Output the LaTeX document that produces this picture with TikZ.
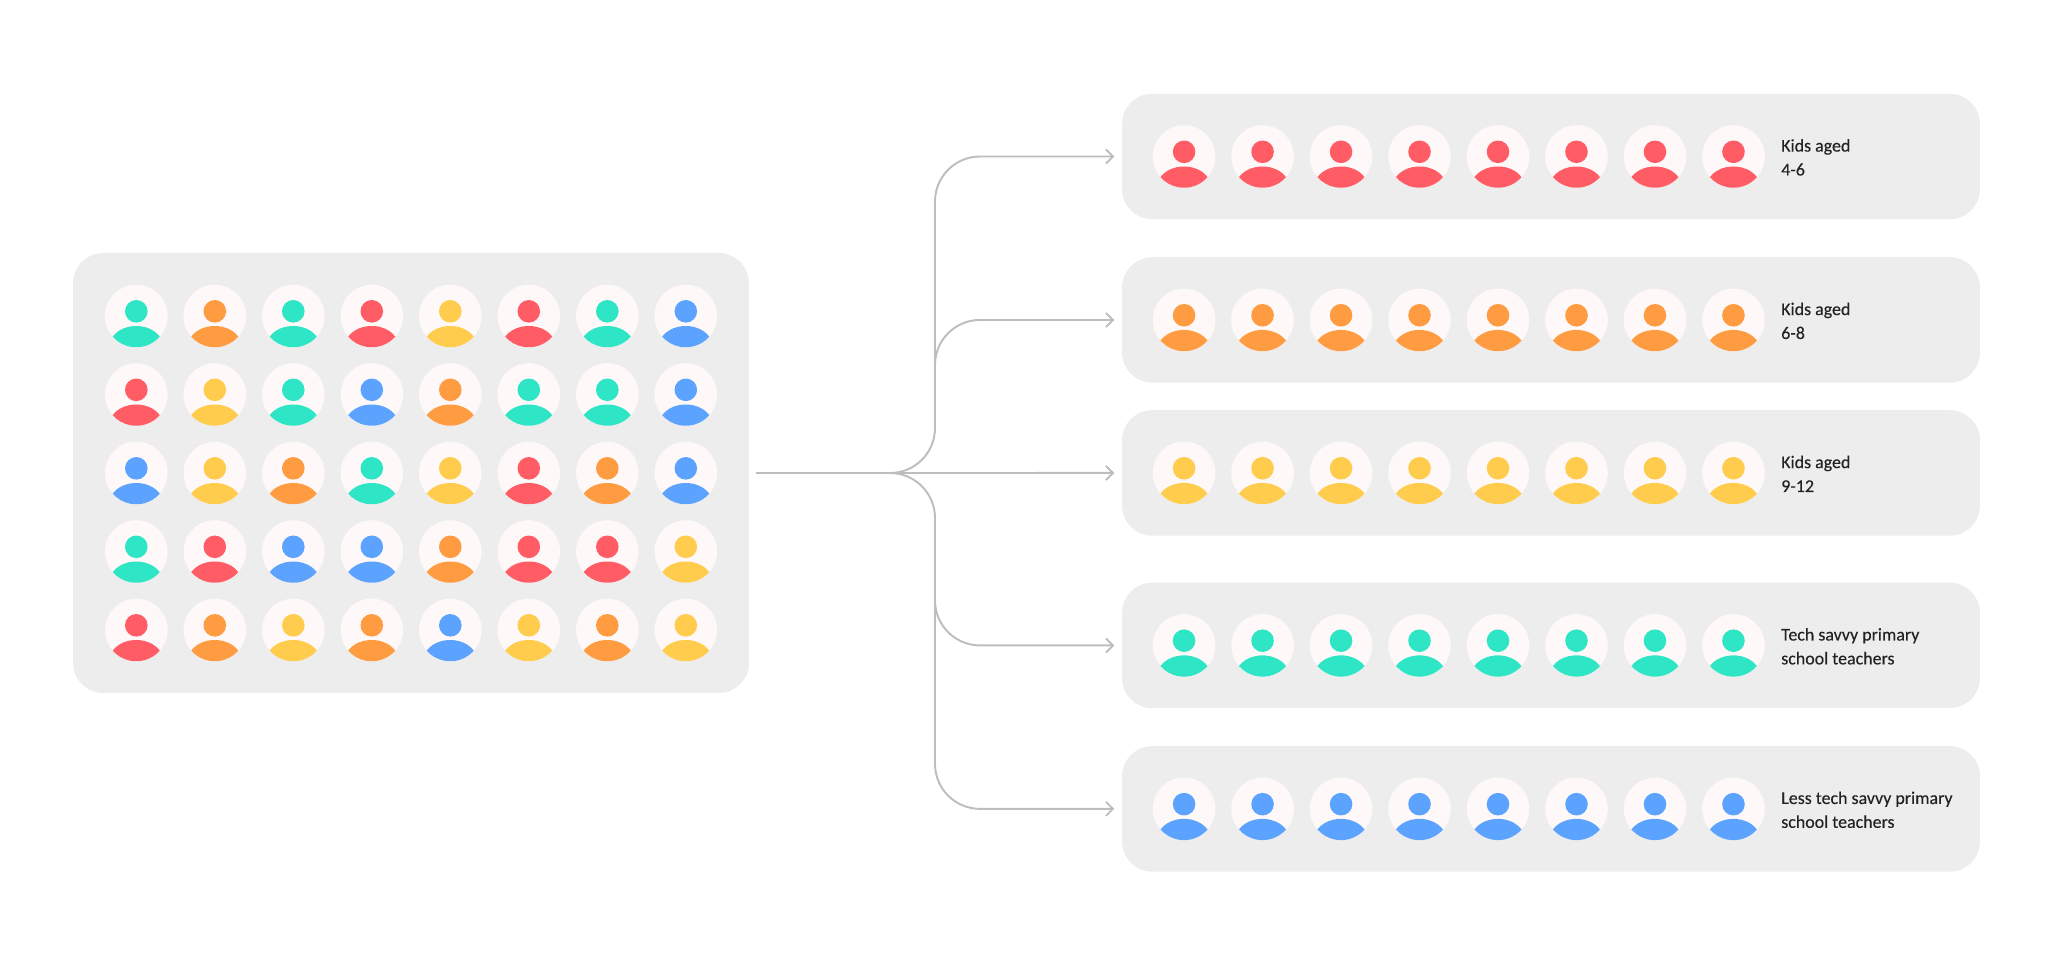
\documentclass[tikz,border=0pt]{standalone}
\usepackage{fontspec}
\setmainfont{Carlito}[FakeBold=0.15]
\usetikzlibrary{arrows.meta, positioning}

\definecolor{mint}{HTML}{2EE6C5}
\definecolor{amber}{HTML}{FF9B40}
\definecolor{sun}{HTML}{FFCC4D}
\definecolor{coral}{HTML}{FF5C66}
\definecolor{sky}{HTML}{5CA3FF}
\definecolor{paneltint}{HTML}{EDEDED}
\definecolor{facetint}{HTML}{FEF8F8}
\definecolor{linetint}{HTML}{BDBDBD}
\definecolor{inktint}{HTML}{222222}

\begin{document}
\begin{tikzpicture}[
  x=0.02cm, y=-0.02cm,
  panel/.style={rectangle, fill=paneltint, rounded corners=0.6cm, minimum width=17.16cm, minimum height=2.51cm, inner sep=0pt, outer sep=0pt},
  face/.style={circle, fill=facetint, minimum size=1.252cm, inner sep=0pt, outer sep=0pt},
  head/.style={circle, minimum size=0.452cm, inner sep=0pt, outer sep=0pt},
  caption/.style={align=left, inner sep=0pt, outer sep=0pt, yshift=-0.5pt, text=inktint, font=\fontsize{10.2}{13.6}\selectfont},
  link/.style={draw=linetint, line width=1.1pt},
  tiplink/.style={link, -{Straight Barb[length=4pt, width=8pt]}, shorten >=4.4pt},
  pics/person/.style={code={
    \node[face] (-face) at (0,0) {};
    \node[head, fill=#1] (-head) at (0,-4.7) {};
    \fill[#1] (23.5,20.6) arc[start angle=41.2, end angle=138.8, radius=31.3]
      arc[start angle=209.5, end angle=330.5, x radius=27, y radius=21] -- cycle;
  }}
]
\useasboundingbox (0,0) rectangle (2053,967);

\node[panel, minimum width=13.52cm, minimum height=8.8cm] (crowd) at (411,473) {};
\node[panel] (kidsA) at (1551,156.5) {};
\node[panel, below=0.76cm of kidsA] (kidsB) {};
\node[panel, below=0.55cm of kidsB] (kidsC) {};
\node[panel, below=0.94cm of kidsC] (techA) {};
\node[panel, below=0.76cm of techA] (techB) {};

% mixed crowd
\foreach \row/\tints in {
  1/{mint,amber,mint,coral,sun,coral,mint,sky},
  2/{coral,sun,mint,sky,amber,mint,mint,sky},
  3/{sky,sun,amber,mint,sun,coral,amber,sky},
  4/{mint,coral,sky,sky,amber,coral,coral,sun},
  5/{coral,amber,sun,amber,sky,sun,amber,sun}} {
  \foreach \tint [count=\col] in \tints {
    \pic (crowd-\row-\col) at ({136.3+78.5*(\col-1)},{316+78.5*(\row-1)}) {person=\tint};
  }
}

% sorted groups
\foreach \band/\tint/\words in {
  kidsA/coral/{Kids aged\\4-6},
  kidsB/amber/{Kids aged\\6-8},
  kidsC/sun/{Kids aged\\9-12},
  techA/mint/{Tech savvy primary\\school teachers},
  techB/sky/{Less tech savvy primary\\school teachers}} {
  \foreach \col in {1,...,8} {
    \pic (\band-\col) at ([xshift={1.24cm+1.57cm*(\col-1)}]\band.west) {person=\tint};
  }
  \node[caption, right=0.33cm of \band-8-face] (\band-label) {\words};
}

\coordinate (fork) at (890,473);
\coordinate (trunk) at (935,473);
\coordinate (kidsBroot) at (935,365);
\coordinate (techAroot) at (935,600);

\draw[link] ([xshift=4pt]crowd.east) -- (fork);
\draw[tiplink, rounded corners=0.9cm] (fork) -- (trunk) |- (kidsA.west);
\draw[tiplink, rounded corners=0.9cm] (kidsBroot) |- (kidsB.west);
\draw[tiplink] (fork) -- (kidsC.west);
\draw[tiplink, rounded corners=0.9cm] (techAroot) |- (techA.west);
\draw[tiplink, rounded corners=0.9cm] (fork) -- (trunk) |- (techB.west);
\end{tikzpicture}
\end{document}
